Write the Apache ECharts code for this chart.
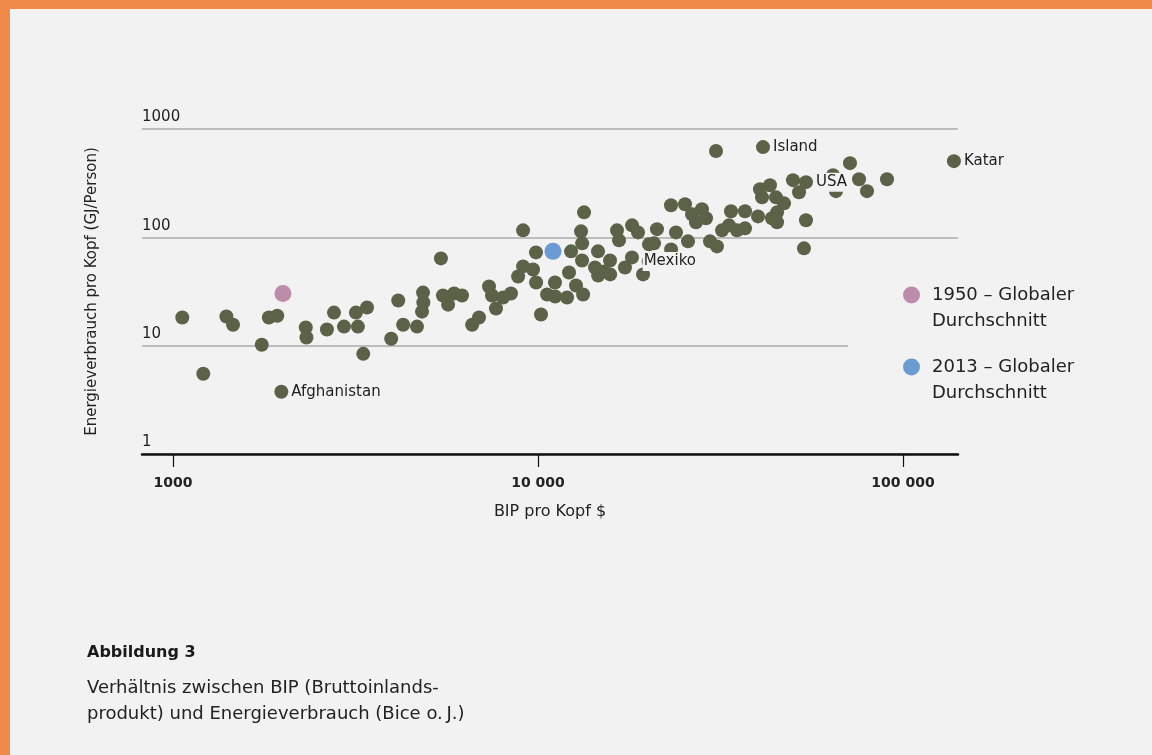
<!DOCTYPE html>
<html>
<head>
<meta charset="utf-8">
<script src="https://cdn.jsdelivr.net/npm/echarts@6/dist/echarts.min.js"></script>
<style>
html,body{margin:0;padding:0;background:#ef8a4b;width:1152px;height:755px;overflow:hidden;}
#panel{position:absolute;left:10px;top:9px;width:1142px;height:746px;background:#f2f2f2;}
#chart{position:absolute;left:0;top:0;width:1152px;height:755px;}
</style>
</head>
<body>
<div id="panel"></div>
<div id="chart"></div>
<script>
// GDP per capita ($) of the unlabeled countries
const gdp = [1060,1210,1400,1460,1750,1830,1930,2310,2320,2640,2760,2940,3170,3210,3400,3320,4140,3960,4270,4660,4840,4850,4810,5420,5490,5670,5890,6190,6600,6890,7340,7480,7670,8020,8430,8820,9100,9100,9690,9870,9880,10190,10590,11130,11140,12010,12160,12320,12710,13290,13200,13210,13120,13370,14600,14330,14610,15160,15750,15760,16460,16670,17310,18090,18100,18790,19400,20140,21180,20790,23140,23880,25280,25760,26420,28130,27090,28860,23150,29590,30930,31930,33790,33370,35100,36910,36920,40070,41090,40570,43760,45170,44880,47210,45180,51900,54230,53550,30740,71580,64300,75780,90410,79700,65530,49950,43210];
// energy use per capita (GJ/person) of the unlabeled countries
const energy = [18.2,5.5,18.6,15.6,10.2,18.2,18.9,14.7,11.9,14.1,20.2,15.0,20.2,15.0,22.5,8.4,26.1,11.6,15.6,15.0,30.9,25.0,20.6,63.9,29.0,23.9,30.3,29.0,15.6,18.2,35.2,29.0,22.0,27.8,30.3,43.5,53.9,116,50.5,72.6,38.3,19.4,29.7,38.3,28.4,27.8,47.4,74.2,35.9,29.7,61.2,88.0,113.6,170,74.2,52.7,44.5,48.4,61.2,45.5,116,93.8,52.7,65.3,129,111,45.5,86.1,119,88.0,198,111,202,91.8,163,182,138,150,77.4,91.8,82.5,116,174,129,116,174,121,156,234,278,150,138,234,206,170,261,144,79.1,626,484,375,344,344,267,267,337,303];

// labeled countries
const labelNames = ['Afghanistan','Mexiko','Island','USA','Katar'];
const labelGdp = [1980,20100,41350,54230,137900];
const labelEnergy = [3.75,59.9,681,323,505];

// global averages
const avgNames = ['1950 – Globaler\nDurchschnitt','2013 – Globaler\nDurchschnitt'];
const avgGdp = [2000,10990];
const avgEnergy = [30.3,74.2];

// axis ticks
const xTicks = [1000,10000,100000];
const xTickLabels = ['1000','10 000','100 000'];
const yTicks = [1,10,100,1000];
const yTickLabels = ['1','10','100','1000'];

const FONT = '"DejaVu Sans", Inter, sans-serif';
const olive = '#5b6247';
const avgColors = ['#bd8cab','#6b9bd2'];

function nearestLabel(v, ticks, labels){
  let best = 0, bd = Infinity;
  ticks.forEach((t,i)=>{const d=Math.abs(Math.log10(v)-Math.log10(t)); if(d<bd){bd=d;best=i;}});
  return labels[best];
}

const chart = echarts.init(document.getElementById('chart'), null, {renderer:'canvas'});

const labeledData = labelNames.map((n,i)=>{
  const item = {name:n, value:[labelGdp[i], labelEnergy[i]]};
  if (n === 'Mexiko') {
    item.label = {position:[1,7], align:'left', verticalAlign:'middle', padding:[2,3,2,1]};
  }
  return item;
});

const option = {
  animation: false,
  backgroundColor: 'transparent',
  textStyle: {fontFamily: FONT},
  title: {
    left: 87, top: 643, padding: 0, itemGap: 12,
    text: 'Abbildung 3',
    textStyle: {fontFamily: FONT, fontSize: 16, fontWeight: 'bold', color: '#1a1a1a', lineHeight: 20},
    subtext: 'Verhältnis zwischen BIP (Bruttoinlands-\nprodukt) und Energieverbrauch (Bice o.\u2009J.)',
    subtextStyle: {fontFamily: FONT, fontSize: 18, color: '#222', lineHeight: 26}
  },
  legend: {
    orient: 'vertical',
    left: 848, top: 252,
    padding: [4, 4, 4, 55],
    backgroundColor: '#f2f2f2',
    itemWidth: 17, itemHeight: 17, itemGap: -6,
    icon: 'circle',
    data: avgNames,
    selectedMode: false,
    formatter: name => '\n' + name,
    textStyle: {fontFamily: FONT, fontSize: 18, color: '#222', lineHeight: 26, padding: [0,0,0,7]}
  },
  grid: {left: 142, right: 194, top: 129, bottom: 301, containLabel: false},
  xAxis: {
    type: 'log', logBase: 10, min: 822, max: 141500,
    name: 'BIP pro Kopf $', nameLocation: 'middle', nameGap: 50,
    nameTextStyle: {fontFamily: FONT, fontSize: 16, color: '#222'},
    axisLine: {show: true, lineStyle: {color: '#111', width: 2.5}},
    axisTick: {show: true, inside: false, length: 13, lineStyle: {color: '#111', width: 1.2}, customValues: xTicks},
    axisLabel: {show: true, customValues: xTicks, margin: 22, fontFamily: FONT, fontSize: 14, fontWeight: 'bold', color: '#222',
      formatter: v => nearestLabel(v, xTicks, xTickLabels)},
    splitLine: {show: false}
  },
  yAxis: {
    type: 'log', logBase: 10, min: 1, max: 1000,
    name: 'Energieverbrauch pro Kopf (GJ/Person)', nameLocation: 'middle', nameGap: 42, nameRotate: 90,
    nameTextStyle: {fontFamily: FONT, fontSize: 15, color: '#222'},
    axisLine: {show: false},
    axisTick: {show: false},
    axisLabel: {show: true, inside: true, margin: 0, align: 'left', verticalAlign: 'bottom', padding: [0,0,4,0],
      fontFamily: FONT, fontSize: 15, color: '#222',
      formatter: v => nearestLabel(v, yTicks, yTickLabels)},
    splitLine: {show: true, lineStyle: {color: '#aaaaaa', width: 1.5}}
  },
  series: [
    {
      name: 'Länder', type: 'scatter', z: 2, silent: true,
      symbol: 'circle', symbolSize: 14,
      itemStyle: {color: olive, opacity: 1},
      data: gdp.map((g,i)=>[g, energy[i]])
    },
    {
      name: 'Beschriftet', type: 'scatter', z: 3, silent: true,
      symbol: 'circle', symbolSize: 14,
      itemStyle: {color: olive, opacity: 1},
      label: {show: true, position: 'right', distance: 1, formatter: '{b}', fontFamily: FONT, fontSize: 15, color: '#1f1f1f',
        backgroundColor: '#f2f2f2', padding: [2,2,2,2]},
      data: labeledData
    },
    {
      name: avgNames[0], type: 'scatter', z: 4, silent: true,
      symbol: 'circle', symbolSize: 17,
      itemStyle: {color: avgColors[0], opacity: 1},
      data: [[avgGdp[0], avgEnergy[0]]]
    },
    {
      name: avgNames[1], type: 'scatter', z: 4, silent: true,
      symbol: 'circle', symbolSize: 17,
      itemStyle: {color: avgColors[1], opacity: 1},
      data: [[avgGdp[1], avgEnergy[1]]]
    }
  ]
};
chart.setOption(option);
</script>
</body>
</html>
